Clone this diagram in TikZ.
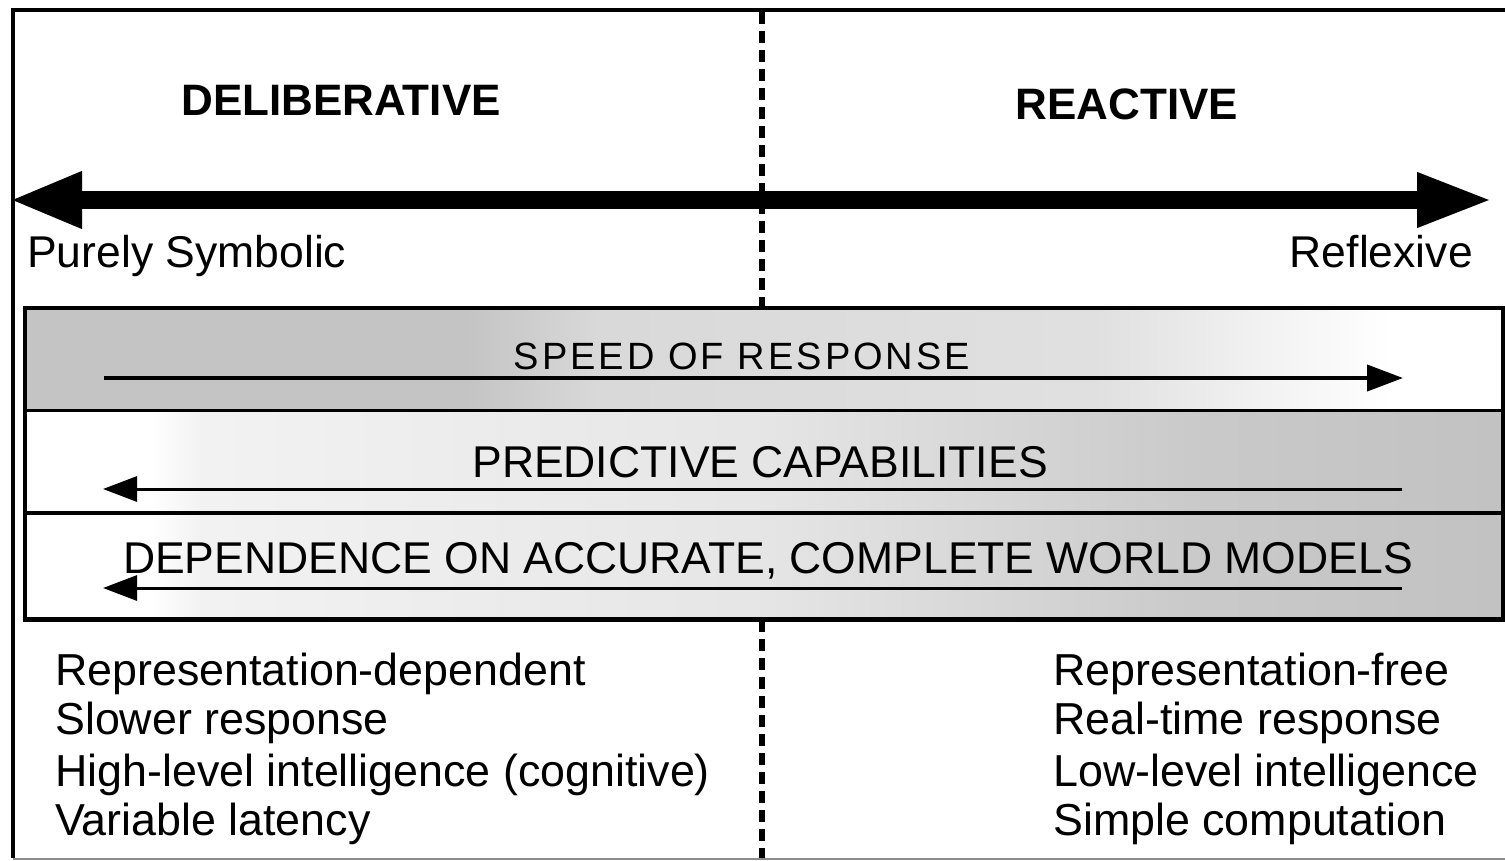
\documentclass[tikz,border=0pt]{standalone}
\usepackage{fontspec}
\setmainfont{Liberation Sans}
\newfontfamily\spacedfont[LetterSpace=8]{Liberation Sans}
\usetikzlibrary{arrows.meta}
\begin{document}
\begin{tikzpicture}[x=1pt,y=-1pt,
  divider/.style={line width=5.5pt, dash pattern=on 12pt off 7pt},
  title/.style={font=\fontsize{44}{48}\selectfont\bfseries, anchor=base, inner sep=0pt},
  endlabel/.style={font=\fontsize{44.5}{48}\selectfont, inner sep=0pt},
  barlabel/.style={font=\fontsize{44.5}{48}\selectfont, anchor=base, inner sep=0pt},
  item/.style={font=\fontsize{44.8}{48}\selectfont, anchor=base west, inner sep=0pt},
  bararrow/.style={line width=3pt, -{Triangle[length=34pt,width=25pt]}},
  barframe/.style={line width=3.5pt}
]
\useasboundingbox (0,0) rectangle (1505,860);
\fill[white] (0,0) rectangle (1505,860);

% vertical dashed divider
\coordinate (dtop) at (762,12);
\coordinate (dbot) at (762,860);
\draw[divider] (dtop) -- (dbot);

% outer frame (right side lies outside the picture)
\draw[line width=3.5pt] (1530,10) -- (13,10) -- (13,858);
\draw[black!45, line width=2pt] (13,858.5) -- (1530,858.5);

% titles
\node[title] (delib) at (341,115) {DELIBERATIVE};
\node[title] (react) at (1127,119) {REACTIVE};

% big double arrow
\coordinate (bigL) at (9,200);
\coordinate (bigR) at (1493,200);
\draw[line width=18pt, {Triangle[length=73pt,width=52pt]}-{Triangle[length=76pt,width=50pt]}] (bigL) -- (bigR);

\node[endlabel, anchor=base west] (pure) at (27,267) {Purely Symbolic};
\node[endlabel, anchor=base east] (refl) at (1473,267) {Reflexive};

% ---- shaded bars ----
% row 1: dark at left, fading to white at right
\fill[black!23] (25,308) rectangle (470,410);
\shade[left color=black!23, right color=black!15] (470,308) rectangle (600,410);
\shade[left color=black!15, right color=black!12] (600,308) rectangle (1100,410);
\shade[left color=black!12, right color=white] (1100,308) rectangle (1390,410);
% rows 2 and 3: white at left, darkening to the right
\foreach \ya/\yb in {410/513, 513/620}{
  \shade[left color=white, right color=black!5] (150,\ya) rectangle (200,\yb);
  \shade[left color=black!5, right color=black!10] (200,\ya) rectangle (760,\yb);
  \shade[left color=black!10, right color=black!21] (760,\ya) rectangle (1200,\yb);
  \shade[left color=black!21, right color=black!24] (1200,\ya) rectangle (1503,\yb);
}
\draw[barframe] (25,308) rectangle (1503,620);
\draw[line width=3pt] (25,410) -- (1503,410);
\draw[line width=3.5pt] (25,513) -- (1503,513);
\draw[line width=4.5pt] (25,619) -- (1503,619);

% bar labels and arrows
\node[barlabel, font=\fontsize{38}{44}\selectfont\spacedfont] (speed) at (742,369) {SPEED OF RESPONSE};
\coordinate (s1) at (104,378);
\coordinate (s2) at (1403,378);
\draw[bararrow, line width=4pt, -{Triangle[length=36pt,width=26pt]}] (s1) -- (s2);

\node[barlabel] (pred) at (760,477) {PREDICTIVE CAPABILITIES};
\coordinate (p1) at (1402,489);
\coordinate (p2) at (103,489);
\draw[bararrow] (p1) -- (p2);

\node[barlabel] (dep) at (768,573) {DEPENDENCE ON ACCURATE, COMPLETE WORLD MODELS};
\coordinate (m1) at (1402,588);
\coordinate (m2) at (103,588);
\draw[bararrow] (m1) -- (m2);

% lists
\node[item] (l1) at (55,685) {Representation-dependent};
\node[item] (l2) at (55,734) {Slower response};
\node[item] (l3) at (55,786) {High-level intelligence (cognitive)};
\node[item] (l4) at (55,835) {Variable latency};

\node[item] (r1) at (1053,685) {Representation-free};
\node[item] (r2) at (1053,734) {Real-time response};
\node[item] (r3) at (1053,786) {Low-level intelligence};
\node[item] (r4) at (1053,835) {Simple computation};
\end{tikzpicture}
\end{document}
